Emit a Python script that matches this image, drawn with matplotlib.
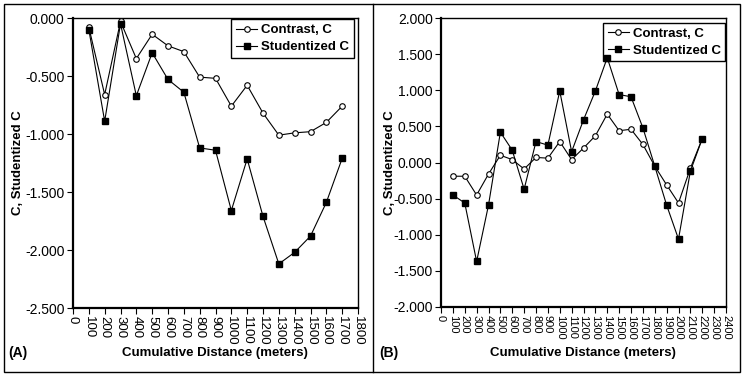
import numpy as np
import matplotlib
matplotlib.use("Agg")
import matplotlib.pyplot as plt
from matplotlib.patches import Rectangle
from matplotlib.lines import Line2D

plt.rcParams['font.family'] = ['Liberation Sans', 'DejaVu Sans']

# === Data: panel A ===
dist_a = [100, 200, 300, 400, 500, 600, 700, 800, 900, 1000,
          1100, 1200, 1300, 1400, 1500, 1600, 1700]
contrast_a = [-0.08, -0.66, -0.03, -0.35, -0.14, -0.24, -0.29, -0.51, -0.52, -0.76,
              -0.58, -0.82, -1.01, -0.99, -0.98, -0.90, -0.76]
student_a = [-0.10, -0.89, -0.05, -0.67, -0.30, -0.53, -0.64, -1.12, -1.14, -1.66,
             -1.215, -1.71, -2.12, -2.02, -1.88, -1.59, -1.21]

# === Data: panel B ===
dist_b = [100, 200, 300, 400, 500, 600, 700, 800, 900, 1000, 1100,
          1200, 1300, 1400, 1500, 1600, 1700, 1800, 1900, 2000, 2100, 2200]
contrast_b = [-0.19, -0.19, -0.45, -0.16, 0.10, 0.04, -0.09, 0.07, 0.06, 0.29, 0.04,
              0.20, 0.37, 0.67, 0.44, 0.46, 0.25, -0.05, -0.31, -0.56, -0.08, 0.33]
student_b = [-0.45, -0.56, -1.37, -0.59, 0.42, 0.17, -0.37, 0.29, 0.24, 0.99, 0.15,
             0.59, 0.99, 1.45, 0.94, 0.91, 0.48, -0.05, -0.59, -1.06, -0.12, 0.33]

W, H = 745, 379
fig = plt.figure(figsize=(W / 100, H / 100), dpi=100)


def px_axes(left, top, right, bottom):
    return fig.add_axes([left / W, 1 - bottom / H, (right - left) / W, (bottom - top) / H])


def draw_panel(ax, x, c, s, xmax, ymin, ymax, legend_anchor, xtick_size):
    ax.plot(x, c, color='black', lw=0.8, marker='o', ms=4, mfc='white', mec='black',
            mew=0.8, label='Contrast, C', zorder=3)
    ax.plot(x, s, color='black', lw=0.8, marker='s', ms=4.5, mfc='black', mec='black',
            label='Studentized C', zorder=4)
    ax.set_xlim(0, xmax)
    ax.set_ylim(ymin, ymax)
    ax.set_xticks(np.arange(0, xmax + 1, 100))
    ax.set_xticklabels([str(v) for v in range(0, xmax + 1, 100)], rotation=270,
                       fontsize=xtick_size)
    yt = np.arange(ymin, ymax + 0.01, 0.5)
    ax.set_yticks(yt)
    ax.set_yticklabels([f"{v:.3f}" for v in yt], fontsize=10)
    ax.tick_params(direction='out', length=4, width=0.8, pad=2)
    for side in ['left', 'bottom']:
        ax.spines[side].set_linewidth(1.6)
    for side in ['top', 'right']:
        ax.spines[side].set_linewidth(1.0)
    leg = ax.legend(loc='upper right', bbox_to_anchor=legend_anchor, borderaxespad=0,
                    fancybox=False, edgecolor='black', framealpha=1,
                    prop={'weight': 'bold', 'size': 9.5}, handlelength=1.6,
                    handletextpad=0.3, labelspacing=0.35, borderpad=0.35)
    leg.get_frame().set_linewidth(1.0)
    # keep data marks above the legend box, as in the original
    leg.set_zorder(2)


ax_a = px_axes(73, 18, 358, 308)
draw_panel(ax_a, dist_a, contrast_a, student_a, 1800, -2.5, 0.0, (0.985, 0.995), 9.5)

ax_b = px_axes(441, 18, 726, 307)
draw_panel(ax_b, dist_b, contrast_b, student_b, 2400, -2.0, 2.0, (0.998, 0.983), 8)

# labels
lab = dict(fontsize=9.5, fontweight='bold', ha='center', va='center')
fig.text(18 / W, 1 - 163 / H, 'C, Studentized C', rotation=90, **lab)
fig.text(390 / W, 1 - 163 / H, 'C, Studentized C', rotation=90, **lab)
fig.text(215 / W, 1 - 353 / H, 'Cumulative Distance (meters)', **lab)
fig.text(583 / W, 1 - 353 / H, 'Cumulative Distance (meters)', **lab)
fig.text(8 / W, 1 - 353 / H, '(A)', fontsize=10, fontweight='bold', ha='left', va='center')
fig.text(379 / W, 1 - 353 / H, '(B)', fontsize=10, fontweight='bold', ha='left', va='center')

# outer frame and divider
fig.patches.append(Rectangle((4 / W, 1 - 372 / H), (740 - 4) / W, (372 - 4) / H,
                             transform=fig.transFigure, fill=False, ec='black', lw=1.0))
fig.lines.append(Line2D([373 / W, 373 / W], [1 - 372 / H, 1 - 4 / H],
                        transform=fig.transFigure, color='black', lw=1.0))

fig.savefig('out.png', dpi=100)
